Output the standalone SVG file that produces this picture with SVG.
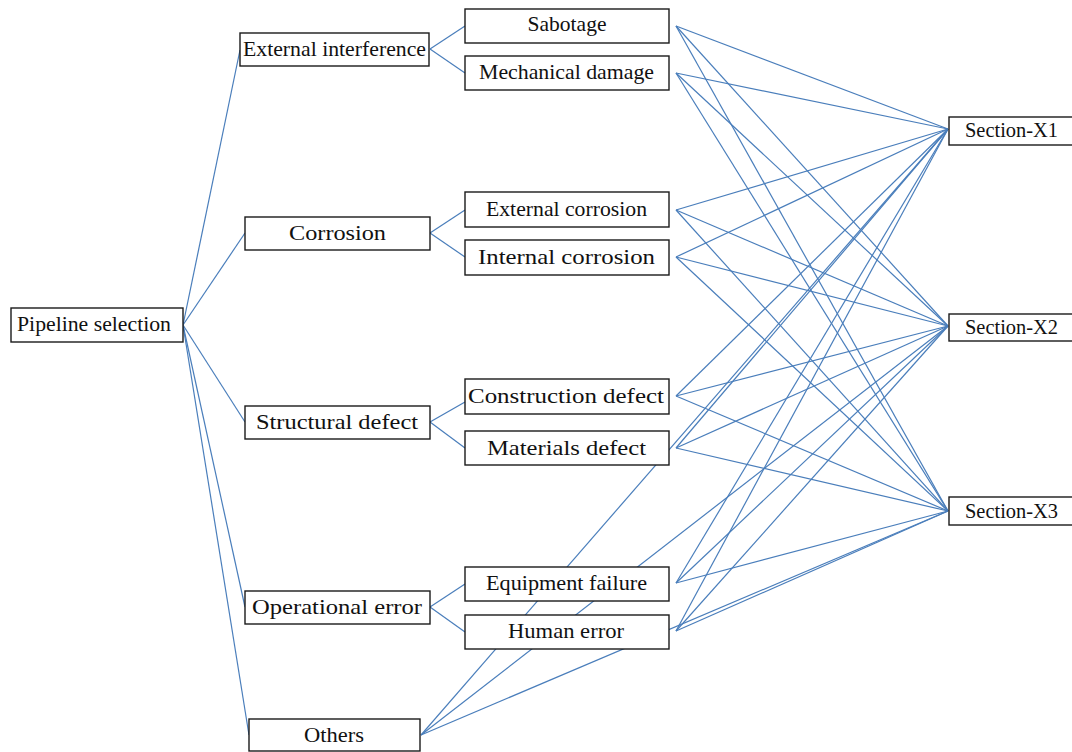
<svg xmlns="http://www.w3.org/2000/svg" width="1072" height="752" viewBox="0 0 1072 752">
<style>
.box{fill:#fff;stroke:#1a1a1a;stroke-width:1.4}
.t{font-family:"Liberation Serif","Times New Roman",serif;font-size:21.5px;fill:#111;text-anchor:middle}
.c line{stroke:#4a7ebb;stroke-width:1.2;fill:none}
</style>
<rect width="1072" height="752" fill="#fff"/>
<g class="c" id="connectors">
<line x1="183" y1="325" x2="240" y2="50"/>
<line x1="183" y1="325" x2="245" y2="233"/>
<line x1="183" y1="325" x2="245" y2="422"/>
<line x1="183" y1="325" x2="245" y2="607"/>
<line x1="183" y1="325" x2="249" y2="735"/>
<line x1="430" y1="49" x2="465" y2="26"/>
<line x1="430" y1="49" x2="465" y2="73"/>
<line x1="430" y1="233" x2="465" y2="210"/>
<line x1="430" y1="233" x2="465" y2="257"/>
<line x1="430" y1="422" x2="465" y2="402"/>
<line x1="430" y1="422" x2="465" y2="448"/>
<line x1="430" y1="607" x2="465" y2="584"/>
<line x1="430" y1="607" x2="465" y2="632"/>
<line x1="676" y1="26" x2="948" y2="129"/>
<line x1="676" y1="26" x2="948" y2="326"/>
<line x1="676" y1="26" x2="948" y2="511"/>
<line x1="676" y1="73" x2="948" y2="129"/>
<line x1="676" y1="73" x2="948" y2="326"/>
<line x1="676" y1="73" x2="948" y2="511"/>
<line x1="676" y1="210" x2="948" y2="129"/>
<line x1="676" y1="210" x2="948" y2="326"/>
<line x1="676" y1="210" x2="948" y2="511"/>
<line x1="676" y1="257" x2="948" y2="129"/>
<line x1="676" y1="257" x2="948" y2="326"/>
<line x1="676" y1="257" x2="948" y2="511"/>
<line x1="676" y1="396" x2="948" y2="129"/>
<line x1="676" y1="396" x2="948" y2="326"/>
<line x1="676" y1="396" x2="948" y2="511"/>
<line x1="676" y1="448" x2="948" y2="129"/>
<line x1="676" y1="448" x2="948" y2="326"/>
<line x1="676" y1="448" x2="948" y2="511"/>
<line x1="676" y1="583" x2="948" y2="129"/>
<line x1="676" y1="583" x2="948" y2="326"/>
<line x1="676" y1="583" x2="948" y2="511"/>
<line x1="676" y1="631" x2="948" y2="129"/>
<line x1="676" y1="631" x2="948" y2="326"/>
<line x1="676" y1="631" x2="948" y2="511"/>
<line x1="421" y1="735" x2="948" y2="129"/>
<line x1="421" y1="735" x2="948" y2="326"/>
<line x1="421" y1="735" x2="948" y2="511"/>
</g>
<g id="pipeline-selection"><rect class="box" x="11" y="308" width="172" height="34"/><text class="t" x="94" y="331" textLength="154" lengthAdjust="spacingAndGlyphs">Pipeline selection</text></g>
<g id="external-interference"><rect class="box" x="240" y="33" width="189" height="33"/><text class="t" x="334.5" y="55.5" textLength="183" lengthAdjust="spacingAndGlyphs">External interference</text></g>
<g id="corrosion"><rect class="box" x="245" y="217" width="185" height="33"/><text class="t" x="337.5" y="240" textLength="97" lengthAdjust="spacingAndGlyphs">Corrosion</text></g>
<g id="structural-defect"><rect class="box" x="245" y="406" width="185" height="33"/><text class="t" x="337" y="429" textLength="162" lengthAdjust="spacingAndGlyphs">Structural defect</text></g>
<g id="operational-error"><rect class="box" x="245" y="591" width="185" height="33"/><text class="t" x="337" y="614" textLength="170" lengthAdjust="spacingAndGlyphs">Operational error</text></g>
<g id="others"><rect class="box" x="249" y="719" width="171" height="32"/><text class="t" x="334" y="742" textLength="60" lengthAdjust="spacingAndGlyphs">Others</text></g>
<g id="sabotage"><rect class="box" x="465" y="9" width="204" height="34"/><text class="t" x="567" y="31" textLength="79" lengthAdjust="spacingAndGlyphs">Sabotage</text></g>
<g id="mechanical-damage"><rect class="box" x="465" y="56" width="204" height="34"/><text class="t" x="566.5" y="78.5" textLength="175" lengthAdjust="spacingAndGlyphs">Mechanical damage</text></g>
<g id="external-corrosion"><rect class="box" x="465" y="192" width="204" height="35"/><text class="t" x="566.5" y="215.5" textLength="161" lengthAdjust="spacingAndGlyphs">External corrosion</text></g>
<g id="internal-corrosion"><rect class="box" x="465" y="240" width="204" height="35"/><text class="t" x="566.5" y="264" textLength="177" lengthAdjust="spacingAndGlyphs">Internal corrosion</text></g>
<g id="construction-defect"><rect class="box" x="465" y="379" width="204" height="35"/><text class="t" x="566" y="402.5" textLength="196" lengthAdjust="spacingAndGlyphs">Construction defect</text></g>
<g id="materials-defect"><rect class="box" x="465" y="431" width="204" height="34"/><text class="t" x="566.5" y="454.5" textLength="159" lengthAdjust="spacingAndGlyphs">Materials defect</text></g>
<g id="equipment-failure"><rect class="box" x="465" y="567" width="204" height="34"/><text class="t" x="566.5" y="590" textLength="161" lengthAdjust="spacingAndGlyphs">Equipment failure</text></g>
<g id="human-error"><rect class="box" x="465" y="615" width="204" height="34"/><text class="t" x="566" y="638" textLength="116" lengthAdjust="spacingAndGlyphs">Human error</text></g>
<g id="section-x1"><rect class="box" x="949" y="117" width="130" height="28"/><text class="t" x="1011.5" y="137" textLength="93" lengthAdjust="spacingAndGlyphs">Section-X1</text></g>
<g id="section-x2"><rect class="box" x="949" y="314" width="130" height="27"/><text class="t" x="1011.5" y="334" textLength="93" lengthAdjust="spacingAndGlyphs">Section-X2</text></g>
<g id="section-x3"><rect class="box" x="949" y="497" width="130" height="28"/><text class="t" x="1011.5" y="518" textLength="93" lengthAdjust="spacingAndGlyphs">Section-X3</text></g>
</svg>
